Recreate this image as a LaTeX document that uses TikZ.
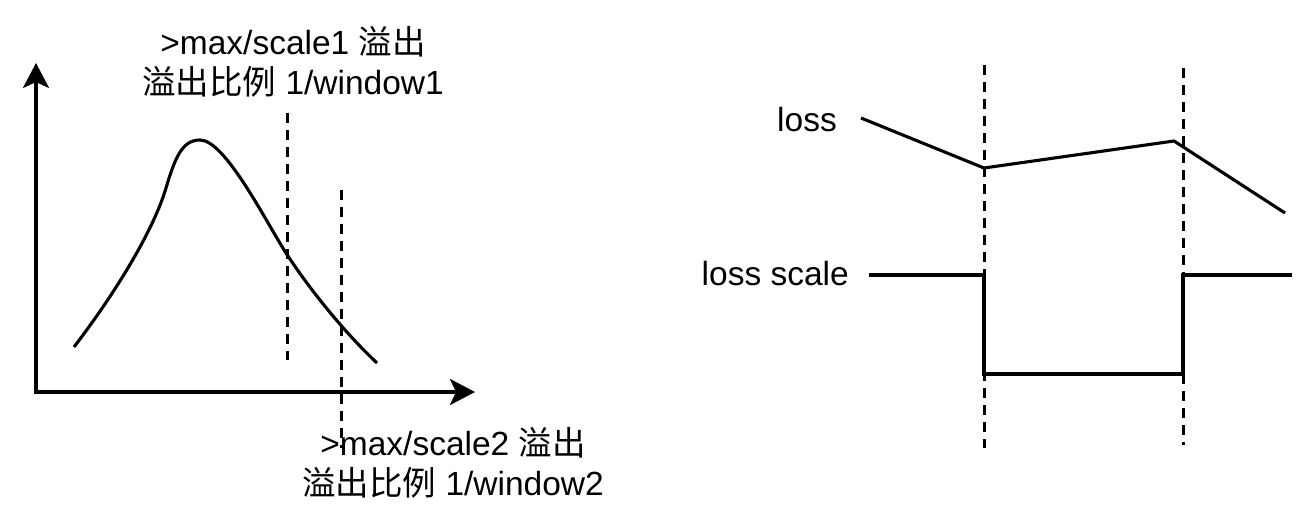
\documentclass[tikz,border=0pt]{standalone}
\usepackage{fontspec}
\setmainfont{Liberation Sans}
\newfontfamily\cjk{Noto Sans CJK SC}
\usetikzlibrary{arrows.meta}
\begin{document}
\begin{tikzpicture}[x=1pt,y=-1pt,
  line/.style={line width=3.1pt, line join=miter},
  guide/.style={line width=3pt, dash pattern=on 10pt off 7pt},
  axis/.style={line width=3.1pt, -{Stealth[length=25pt,width=26pt,inset=6pt]}},
  lbl/.style={inner sep=0pt, font=\fontsize{33.5}{40}\selectfont},
  note/.style={inner sep=0pt, align=center, font=\fontsize{33.5}{40}\selectfont}]
\useasboundingbox (0,0) rectangle (1315,532);
% ---- left chart ----
\coordinate (o) at (36,392);
\coordinate (ytip) at (36,63);
\coordinate (xtip) at (475,392);
\draw[axis] (o) -- (ytip);
\draw[axis] (34,392) -- (xtip);
\draw[line] (74,347) .. controls (110,300) and (152,235) .. (166,188)
  .. controls (175,158) and (182,140) .. (200,140)
  .. controls (225,140) and (265,220) .. (286,253)
  .. controls (310,290) and (345,333) .. (377,363);
\coordinate (d1t) at (287,113);
\coordinate (d1b) at (287,360);
\coordinate (d2t) at (341,190);
\coordinate (d2b) at (341,448);
\draw[guide] (d1t) -- (d1b);
\draw[guide] (d2t) -- (d2b);
\node[note, anchor=base] (t1) at (293,95) {>max/scale1 {\cjk 溢出}\\{\cjk 溢出比例} 1/window1};
\node[note, anchor=base] (t2) at (453,495) {>max/scale2 {\cjk 溢出}\\{\cjk 溢出比例} 1/window2};
% ---- right chart ----
\node[lbl, anchor=base east] (loss) at (837,132) {loss};
\node[lbl, anchor=base east] (lscale) at (849,285) {loss scale};
\coordinate (g1t) at (984,65);
\coordinate (g1b) at (984,448);
\coordinate (g2t) at (1183,68);
\coordinate (g2b) at (1183,445);
\draw[guide] (g1t) -- (g1b);
\draw[guide] (g2t) -- (g2b);
\draw[line] (861,118) -- (984,168) -- (1174,141) -- (1285,213);
\draw[line] (869,275) -- (984,275) -- (984,374) -- (1183,374) -- (1183,275) -- (1292,275);
\end{tikzpicture}
\end{document}
